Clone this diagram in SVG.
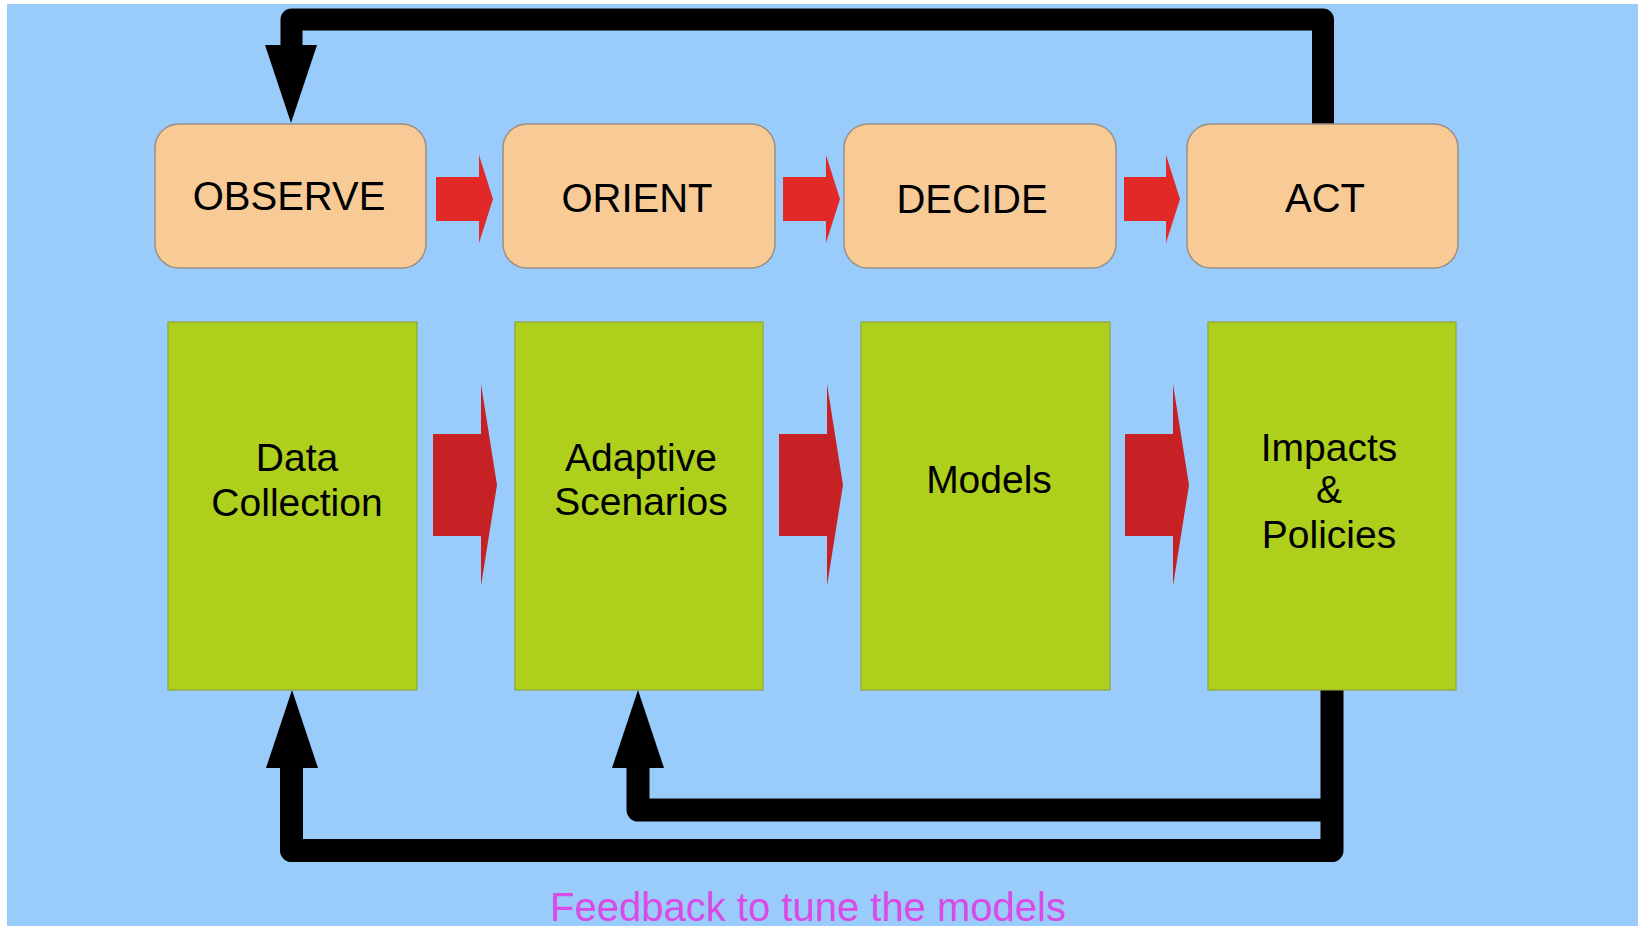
<svg xmlns="http://www.w3.org/2000/svg" width="1640" height="926" viewBox="0 0 1640 926">
  <defs>
    <style>
      .phase { fill: #F7CA96; stroke: #9A8F84; stroke-width: 1.5; }
      .stage { fill: #AECF1C; stroke: #8FA33A; stroke-width: 1.2; }
      .lbl { font-family: "Liberation Sans", Arial, sans-serif; fill: #000; text-anchor: middle; }
      .top { font-size: 40px; }
      .mid { font-size: 39px; }
      .flow-top { fill: #E32828; }
      .flow-mid { fill: #C62226; }
      .loop { fill: none; stroke: #000; stroke-width: 22; stroke-linejoin: round; }
      .loop-wide { fill: none; stroke: #000; stroke-width: 23; stroke-linejoin: round; }
      .head { fill: #000; }
      .note { font-family: "Liberation Sans", Arial, sans-serif; font-size: 40px; fill: #DA4AE6; text-anchor: middle; }
    </style>
  </defs>

  <!-- page -->
  <rect x="0" y="0" width="1640" height="926" fill="#FFFFFF"/>
  <rect x="7" y="4" width="1631" height="922" fill="#99CCFB"/>

  <!-- feedback connectors -->
  <g id="connectors">
    <!-- ACT back to OBSERVE -->
    <path class="loop" d="M1323,124 V19.5 H291.5 V46"/>
    <polygon class="head" points="265,45 317,45 291,123"/>
    <!-- Impacts back to Data Collection -->
    <path class="loop-wide" d="M1332,690 V850.5 H291.5 V767"/>
    <polygon class="head" points="266,768 318,768 292,690"/>
    <!-- Impacts back to Adaptive Scenarios -->
    <path class="loop-wide" d="M1332,810 H638 V767"/>
    <polygon class="head" points="612,768 664,768 638,690"/>
  </g>

  <!-- forward flow arrows -->
  <g id="flow">
    <polygon class="flow-top" points="436,177 479,177 479,155 493,199 479,243 479,221 436,221"/>
    <polygon class="flow-top" points="783,177 826,177 826,155 840,199 826,243 826,221 783,221"/>
    <polygon class="flow-top" points="1124,177 1166,177 1166,155 1180,199 1166,243 1166,221 1124,221"/>
    <polygon class="flow-mid" points="433,434 481,434 481,384 497,485 481,586 481,536 433,536"/>
    <polygon class="flow-mid" points="779,434 827,434 827,384 843,485 827,586 827,536 779,536"/>
    <polygon class="flow-mid" points="1125,434 1173,434 1173,384 1189,485 1173,586 1173,536 1125,536"/>
  </g>

  <!-- OODA phases -->
  <g id="observe">
    <rect class="phase" x="155" y="124" width="271" height="144" rx="24"/>
    <text class="lbl top" x="289" y="210">OBSERVE</text>
  </g>
  <g id="orient">
    <rect class="phase" x="503" y="124" width="272" height="144" rx="24"/>
    <text class="lbl top" x="637" y="212">ORIENT</text>
  </g>
  <g id="decide">
    <rect class="phase" x="844" y="124" width="272" height="144" rx="24"/>
    <text class="lbl top" x="972" y="213">DECIDE</text>
  </g>
  <g id="act">
    <rect class="phase" x="1187" y="124" width="271" height="144" rx="24"/>
    <text class="lbl top" x="1325" y="212">ACT</text>
  </g>

  <!-- modelling stages -->
  <g id="data-collection">
    <rect class="stage" x="168" y="322" width="249" height="368"/>
    <text class="lbl mid" x="297" y="471">Data</text>
    <text class="lbl mid" x="297" y="516">Collection</text>
  </g>
  <g id="adaptive-scenarios">
    <rect class="stage" x="515" y="322" width="248" height="368"/>
    <text class="lbl mid" x="641" y="471">Adaptive</text>
    <text class="lbl mid" x="641" y="515">Scenarios</text>
  </g>
  <g id="models">
    <rect class="stage" x="861" y="322" width="249" height="368"/>
    <text class="lbl mid" x="989" y="493">Models</text>
  </g>
  <g id="impacts-policies">
    <rect class="stage" x="1208" y="322" width="248" height="368"/>
    <text class="lbl mid" x="1329" y="461">Impacts</text>
    <text class="lbl mid" x="1329" y="503">&amp;</text>
    <text class="lbl mid" x="1329" y="548">Policies</text>
  </g>

  <text class="note" x="808" y="921">Feedback to tune the models</text>
</svg>
